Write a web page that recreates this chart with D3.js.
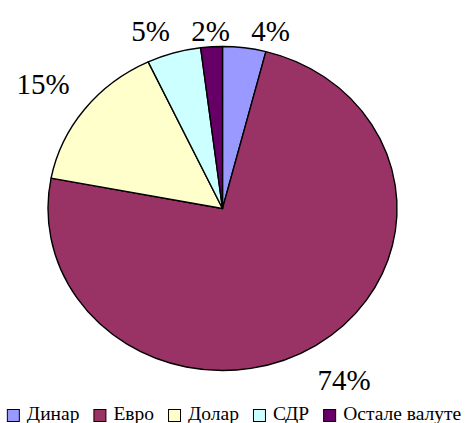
<!DOCTYPE html>
<html>
<head>
<meta charset="utf-8">
<script src="https://cdn.jsdelivr.net/npm/d3@7"></script>
</head>
<body style="margin:0">
<div id="chart"></div>
<script>
const WIDTH = 466;
const HEIGHT = 423;
const FONT = "'Liberation Serif'";

// currency share (%), drawn clockwise from 12 o'clock
const categories = ["Динар", "Евро", "Долар", "СДР", "Остале валуте"];
const values = [4, 74, 15, 5, 2];
const colors = ["#9999FF", "#993366", "#FFFFCC", "#CCFFFF", "#660066"];

const CX = 222.5, CY = 208.5; // pie centre
const RX = 174.5, RY = 162;   // pie is a bit squashed, like the original

var svg = d3.select("#chart").append("svg")
  .attr("width", WIDTH)
  .attr("height", HEIGHT);

var pie = d3.pie().sort(null).value(d => d);
var arcs = pie(values);

var arc = d3.arc().innerRadius(0).outerRadius(RX);

// draw a circle of radius RX and squash it vertically
svg.append("g")
  .attr("transform", "translate(" + CX + "," + CY + ") scale(1," + (RY / RX) + ")")
  .selectAll("path")
  .data(arcs)
  .join("path")
    .attr("d", arc)
    .attr("fill", (d, i) => colors[i])
    .attr("stroke", "#000")
    .attr("stroke-width", 1.4)
    .attr("stroke-linejoin", "round")
    .attr("vector-effect", "non-scaling-stroke");

// percentage labels outside the pie
const LABEL_F = 1.18;
var labels = arcs.map((d, i) => {
  var a = (d.startAngle + d.endAngle) / 2;
  var txt = values[i] + "%";
  var w = txt.length * 14, h = 24;
  var x = CX + RX * LABEL_F * Math.sin(a) + (w / 2) * Math.sin(a);
  var y = CY - RY * LABEL_F * Math.cos(a) - (h / 2) * Math.cos(a);
  y = Math.max(y, 31); // keep inside the chart area
  return { txt: txt, x: x, y: y, w: w, h: h };
});

// push overlapping labels apart sideways (right-hand one moves a bit more)
for (var it = 0; it < 60; it++) {
  for (var p = 0; p < labels.length; p++) {
    for (var q = 0; q < labels.length; q++) {
      if (p === q) continue;
      var A = labels[p], B = labels[q];
      if (Math.abs(A.y - B.y) > A.h) continue;
      var need = A.w / 2 + B.w / 2 + 32;
      var dist = B.x - A.x;
      if (dist >= 0 && dist < need) {
        var push = need - dist;
        A.x -= push * 0.4; B.x += push * 0.6;
      }
    }
  }
}

svg.selectAll("text.pct")
  .data(labels)
  .join("text")
    .attr("class", "pct")
    .attr("x", d => d.x)
    .attr("y", d => d.y + 10)
    .attr("text-anchor", "middle")
    .style("font-family", FONT)
    .attr("font-size", 29)
    .text(d => d.txt);

// legend along the bottom - widths measured on a canvas
const BOX = 13, GAP_BOX = 7, GAP_ITEM = 14, LEGEND_FS = 19.5;
var ctx = document.createElement("canvas").getContext("2d");
ctx.font = LEGEND_FS + "px " + FONT;
var legendX = [];
var xPos = 0;
categories.forEach(c => {
  legendX.push(xPos);
  xPos += BOX + GAP_BOX + ctx.measureText(c).width + GAP_ITEM;
});
var totalW = xPos - GAP_ITEM;
var x0 = WIDTH / 2 - totalW / 2 + 1;

svg.selectAll("rect.key")
  .data(categories)
  .join("rect")
    .attr("class", "key")
    .attr("x", (d, i) => x0 + legendX[i] + 0.5)
    .attr("y", 421 - BOX + 1.5)
    .attr("width", BOX - 1)
    .attr("height", BOX - 1)
    .attr("fill", (d, i) => colors[i])
    .attr("stroke", "#000")
    .attr("stroke-width", 1);

svg.selectAll("text.key")
  .data(categories)
  .join("text")
    .attr("class", "key")
    .attr("x", (d, i) => x0 + legendX[i] + BOX + GAP_BOX)
    .attr("y", 420)
    .style("font-family", FONT)
    .attr("font-size", LEGEND_FS)
    .text(d => d);
</script>
</body>
</html>
